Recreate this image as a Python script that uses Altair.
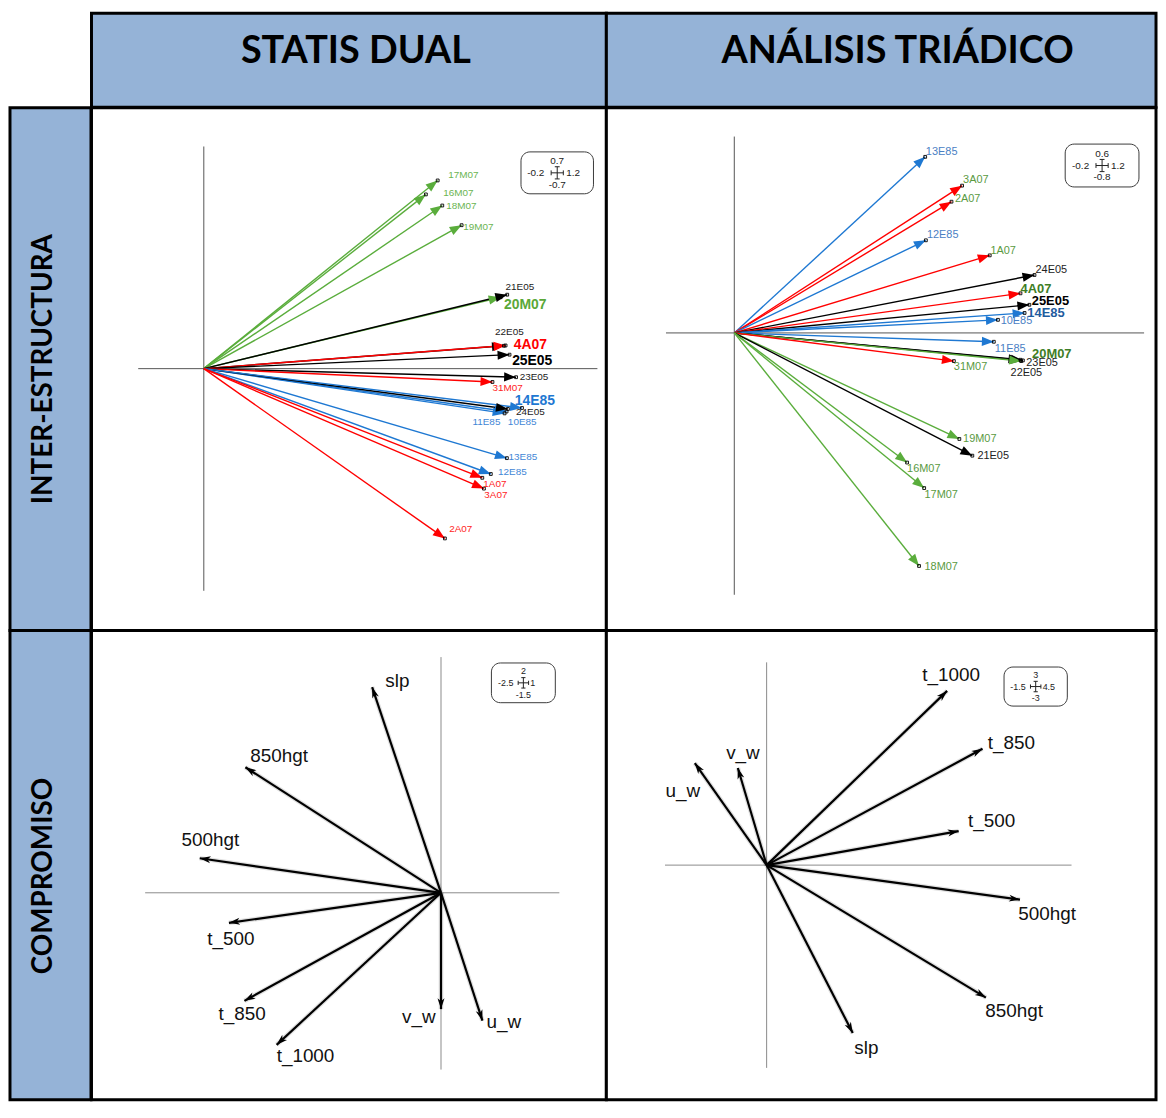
import math
import altair as alt
import pandas as pd

# ---------------- text ----------------
COL_TITLES = ["STATIS DUAL", "ANÁLISIS TRIÁDICO"]
ROW_TITLES = ["INTER-ESTRUCTURA", "COMPROMISO"]

# ---------------- panel 1: STATIS DUAL / INTER-ESTRUCTURA ----------------
P1_NAMES = ["17M07", "16M07", "18M07", "19M07", "20M07", "21E05", "22E05", "4A07", "25E05", "23E05",
            "31M07", "11E85", "10E85", "24E05", "14E85", "13E85", "12E85", "1A07", "3A07", "2A07"]
P1_X = [0.713, 0.677, 0.727, 0.786, 0.905, 0.925, 0.915, 0.920, 0.932, 0.952,
        0.880, 0.917, 0.923, 0.927, 0.970, 0.924, 0.875, 0.849, 0.854, 0.735]
P1_Y = [0.593, 0.549, 0.514, 0.452, 0.225, 0.233, 0.072, 0.073, 0.044, -0.027,
        -0.042, -0.141, -0.135, -0.127, -0.124, -0.282, -0.332, -0.344, -0.378, -0.535]
P1_GROUP = ["M07", "M07", "M07", "M07", "M07", "E05", "E05", "A07", "E05", "E05",
            "A07", "E85", "E85", "E05", "E85", "E85", "E85", "A07", "A07", "A07"]
P1_LABEL_GROUP = P1_GROUP
P1_LABEL_X = [0.745, 0.730, 0.739, 0.791, 0.915, 0.920, 0.888, 0.945, 0.940, 0.963,
              0.880, 0.819, 0.927, 0.952, 0.948, 0.929, 0.897, 0.852, 0.855, 0.748]
P1_LABEL_Y = [0.611, 0.554, 0.514, 0.445, 0.201, 0.256, 0.116, 0.073, 0.023, -0.027,
              -0.060, -0.169, -0.169, -0.138, -0.101, -0.278, -0.327, -0.362, -0.399, -0.506]
P1_BOLD = ["20M07", "4A07", "25E05", "14E85"]
P1_XDOM = [-0.2, 1.2]
P1_YDOM = [-0.7, 0.7]
P1_BOX_X = [0.967, 1.188]
P1_BOX_Y = [0.551, 0.683]

# ---------------- panel 2: ANÁLISIS TRIÁDICO / INTER-ESTRUCTURA ----------------
P2_NAMES = ["13E85", "3A07", "2A07", "12E85", "1A07", "24E05", "4A07", "25E05", "14E85", "10E85",
            "11E85", "22E05", "23E05", "20M07", "31M07", "19M07", "21E05", "16M07", "17M07", "18M07"]
P2_X = [0.559, 0.667, 0.636, 0.561, 0.748, 0.879, 0.838, 0.864, 0.850, 0.772,
        0.760, 0.838, 0.845, 0.840, 0.643, 0.659, 0.697, 0.506, 0.556, 0.541]
P2_Y = [0.538, 0.450, 0.401, 0.283, 0.237, 0.177, 0.121, 0.086, 0.061, 0.040,
        -0.027, -0.082, -0.084, -0.086, -0.086, -0.324, -0.375, -0.396, -0.474, -0.712]
P2_GROUP = ["E85", "A07", "A07", "E85", "A07", "E05", "A07", "E05", "E85", "E85",
            "E85", "E05", "E05", "M07", "A07", "M07", "E05", "M07", "M07", "M07"]
P2_LABEL_GROUP = ["E85", "M07", "M07", "E85", "M07", "E05", "M07", "E05", "E85", "E85",
                  "E85", "E05", "E05", "M07", "M07", "M07", "E05", "M07", "M07", "M07"]
P2_LABEL_X = [0.561, 0.670, 0.646, 0.564, 0.750, 0.882, 0.838, 0.871, 0.858, 0.780,
              0.763, 0.809, 0.855, 0.872, 0.643, 0.670, 0.712, 0.506, 0.557, 0.557]
P2_LABEL_Y = [0.552, 0.466, 0.410, 0.299, 0.250, 0.191, 0.134, 0.098, 0.061, 0.037,
              -0.048, -0.121, -0.091, -0.064, -0.104, -0.324, -0.377, -0.415, -0.494, -0.716]
P2_BOLD = ["4A07", "25E05", "14E85", "20M07"]
P2_XDOM = [-0.2, 1.2]
P2_YDOM = [-0.8, 0.6]
P2_BOX_X = [0.969, 1.185]
P2_BOX_Y = [0.446, 0.577]

# ---------------- panel 3: STATIS DUAL / COMPROMISO ----------------
P3_NAMES = ["slp", "850hgt", "500hgt", "t_500", "t_850", "t_1000", "v_w", "u_w"]
P3_X = [-0.582, -1.653, -2.039, -1.792, -1.661, -1.389, 0.0, 0.350]
P3_Y = [1.745, 1.065, 0.293, -0.255, -0.917, -1.290, -0.987, -1.085]
P3_LABEL_X = [-0.471, -1.611, -2.193, -1.975, -1.880, -1.389, -0.330, 0.384]
P3_LABEL_Y = [1.796, 1.164, 0.447, -0.396, -1.029, -1.385, -1.054, -1.094]
P3_XDOM = [-2.5, 1.0]
P3_YDOM = [-1.5, 2.0]
P3_BOX_X = [0.426, 0.966]
P3_BOX_Y = [1.613, 1.950]

# ---------------- panel 4: ANÁLISIS TRIÁDICO / COMPROMISO ----------------
P4_NAMES = ["t_1000", "t_850", "t_500", "500hgt", "850hgt", "slp", "u_w", "v_w"]
P4_X = [2.664, 3.186, 2.834, 3.739, 3.236, 1.271, -1.060, -0.425]
P4_Y = [2.578, 1.721, 0.504, -0.510, -1.960, -2.485, 1.510, 1.437]
P4_LABEL_X = [2.298, 3.265, 2.972, 3.714, 3.226, 1.295, -1.491, -0.597]
P4_LABEL_Y = [2.809, 1.804, 0.651, -0.721, -2.157, -2.706, 1.093, 1.657]
P4_XDOM = [-1.5, 4.5]
P4_YDOM = [-3.0, 3.0]
P4_BOX_X = [3.504, 4.438]
P4_BOX_Y = [2.353, 2.931]

# ---------------- styles ----------------
HEADER_FILL = "#95b3d7"
BORDER = 3
ARROW_COL = {"M07": "#5aad3c", "E05": "#000000", "A07": "#ff0000", "E85": "#1e78d2"}
P1_LABEL_COL = {"M07": "#6cb552", "E05": "#1a1a1a", "A07": "#ff2424", "E85": "#3f86d6"}
P1_BOLD_COL = {"M07": "#5aa838", "E05": "#000000", "A07": "#ff0000", "E85": "#1e78d2"}
P2_LABEL_COL = {"M07": "#5a9a3f", "E05": "#222222", "A07": "#5a9a3f", "E85": "#4a80c4"}
P2_BOLD_COL = {"M07": "#3e7d26", "E05": "#000000", "A07": "#3e7d26", "E85": "#1f5c9e"}
TRI_HEAD = "M0,0L-1,-0.38L-1,0.38Z"
DART_HEAD = "M0,0L-1,-0.32L-0.72,0L-1,0.32Z"
CROSS = "M-1,0L1,0M0,-1L0,1M-1,-0.4L-1,0.4M1,-0.4L1,0.4M-0.4,-1L0.4,-1M-0.4,1L0.4,1"
LABEL_FONT = "Liberation Sans"
TITLE_FONT = "Lato"

W0, W1, W2 = 81.5, 518, 553
H0, H1, H2 = 94.5, 526, 472


def fmt(v):
    return f"{v:g}"


def panel(names, xs, ys, groups, lgroups, lxs, lys, bold, xdom, ydom, xr, yr, w, h,
          box_x, box_y, st):
    kx = (xr[1] - xr[0]) / (xdom[1] - xdom[0])
    ky = (yr[0] - yr[1]) / (ydom[1] - ydom[0])
    df = pd.DataFrame({
        "name": names, "x": xs, "y": ys, "lx": lxs, "ly": lys,
        "ox": [0.0] * len(names), "oy": [0.0] * len(names),
        "b": [n in bold for n in names],
    })
    df["ang"] = [math.degrees(math.atan2(-y * ky, x * kx)) % 360 for x, y in zip(xs, ys)]
    df["ac"] = [st["arrow"][g] for g in groups]
    df["lc"] = [(st["bold_col"][g] if n in bold else st["label_col"][g]) for n, g in zip(names, lgroups)]

    sx = alt.Scale(domain=xdom, range=xr, nice=False, zero=False)
    sy = alt.Scale(domain=ydom, range=yr, nice=False, zero=False)

    def X(f):
        return alt.X(f, type="quantitative", scale=sx, axis=None)

    def Y(f):
        return alt.Y(f, type="quantitative", scale=sy, axis=None)

    axes_df = pd.DataFrame({"x": [xdom[0], 0.0], "x2": [xdom[1], 0.0],
                            "y": [0.0, ydom[0]], "y2": [0.0, ydom[1]]})
    axes = alt.Chart(axes_df).mark_rule(color=st["axis"], strokeWidth=1).encode(
        x=X("x"), x2="x2:Q", y=Y("y"), y2="y2:Q")

    base = alt.Chart(df)
    layers = [axes]
    if st["shadow"]:
        layers.append(base.mark_rule(strokeWidth=st["lw"] + 2.5, color="#000000", opacity=0.12).encode(
            x=X("ox"), x2="x:Q", y=Y("oy"), y2="y:Q"))
    layers.append(base.mark_rule(strokeWidth=st["lw"]).encode(
        x=X("ox"), x2="x:Q", y=Y("oy"), y2="y:Q", color=alt.Color("ac:N", scale=None)))
    layers.append(base.mark_point(shape=st["shape"], filled=True, size=st["head"], opacity=1,
                                  strokeWidth=0).encode(
        x=X("x"), y=Y("y"), angle=alt.Angle("ang:Q", scale=None),
        color=alt.Color("ac:N", scale=None)))
    if st["dots"]:
        layers.append(base.mark_point(shape="square", size=8, filled=False, strokeWidth=0.9,
                                      color="#000000", opacity=1).encode(x=X("x"), y=Y("y")))
    layers.append(base.transform_filter("!datum.b").mark_text(
        align="left", baseline="middle", font=LABEL_FONT, fontSize=st["fs"]).encode(
        x=X("lx"), y=Y("ly"), text="name:N", color=alt.Color("lc:N", scale=None)))
    if bold:
        layers.append(base.transform_filter("datum.b").mark_text(
            align="left", baseline="middle", font=LABEL_FONT, fontSize=st["bfs"],
            fontWeight="bold").encode(
            x=X("lx"), y=Y("ly"), text="name:N", color=alt.Color("lc:N", scale=None)))

    # scale box
    bdf = pd.DataFrame({"x": [box_x[0]], "x2": [box_x[1]], "y": [box_y[0]], "y2": [box_y[1]],
                        "cx": [(box_x[0] + box_x[1]) / 2], "cy": [(box_y[0] + box_y[1]) / 2],
                        "top": [fmt(ydom[1])], "bot": [fmt(ydom[0])],
                        "left": [fmt(xdom[0])], "right": [fmt(xdom[1])]})
    bb = alt.Chart(bdf)
    layers.append(bb.mark_rect(cornerRadius=9, fill="white", stroke="#3a3a3a",
                               strokeWidth=1).encode(x=X("x"), x2="x2:Q", y=Y("y"), y2="y2:Q"))
    layers.append(bb.mark_point(shape=CROSS, filled=False, size=st["cross"], color="#222222",
                                strokeWidth=1, opacity=1).encode(x=X("cx"), y=Y("cy")))
    bs = st["bfont"]
    off = st["boff"]
    layers.append(bb.mark_text(font=LABEL_FONT, fontSize=bs, color="#222222", baseline="middle",
                               dy=-off[1]).encode(x=X("cx"), y=Y("cy"), text="top:N"))
    layers.append(bb.mark_text(font=LABEL_FONT, fontSize=bs, color="#222222", baseline="middle",
                               dy=off[1]).encode(x=X("cx"), y=Y("cy"), text="bot:N"))
    layers.append(bb.mark_text(font=LABEL_FONT, fontSize=bs, color="#222222", baseline="middle",
                               align="right", dx=-off[0]).encode(x=X("cx"), y=Y("cy"), text="left:N"))
    layers.append(bb.mark_text(font=LABEL_FONT, fontSize=bs, color="#222222", baseline="middle",
                               align="left", dx=off[2]).encode(x=X("cx"), y=Y("cy"), text="right:N"))

    return alt.layer(*layers).properties(
        width=w, height=h,
        view=alt.ViewBackground(stroke="black", strokeWidth=BORDER, fill="white"))


TOP1 = {"arrow": ARROW_COL, "label_col": P1_LABEL_COL, "bold_col": P1_BOLD_COL,
        "axis": "#555555", "lw": 1.4, "shape": TRI_HEAD, "head": 576, "dots": True,
        "shadow": False, "fs": 10, "bfs": 14, "cross": 150, "bfont": 10, "boff": (13, 12, 9)}
TOP2 = dict(TOP1, label_col=P2_LABEL_COL, bold_col=P2_BOLD_COL, fs=11, bfs=13)
BOT = {"arrow": {"k": "#000000"}, "label_col": {"k": "#111111"}, "bold_col": {"k": "#111111"},
       "axis": "#8a8a8a", "lw": 2.2, "shape": DART_HEAD, "head": 484, "dots": False,
       "shadow": True, "fs": 19, "bfs": 19, "cross": 110, "bfont": 9, "boff": (10, 12, 7)}

p1 = panel(P1_NAMES, P1_X, P1_Y, P1_GROUP, P1_LABEL_GROUP, P1_LABEL_X, P1_LABEL_Y, P1_BOLD,
           P1_XDOM, P1_YDOM, [47, 509], [486, 39], W1, H1, P1_BOX_X, P1_BOX_Y, TOP1)
p2 = panel(P2_NAMES, P2_X, P2_Y, P2_GROUP, P2_LABEL_GROUP, P2_LABEL_X, P2_LABEL_Y, P2_BOLD,
           P2_XDOM, P2_YDOM, [60, 541], [490, 29], W2, H1, P2_BOX_X, P2_BOX_Y, TOP2)
p3 = panel(P3_NAMES, P3_X, P3_Y, ["k"] * 8, ["k"] * 8, P3_LABEL_X, P3_LABEL_Y, [],
           P3_XDOM, P3_YDOM, [54, 470.7], [441.7, 26.7], W1, H2, P3_BOX_X, P3_BOX_Y, BOT)
p4 = panel(P4_NAMES, P4_X, P4_Y, ["k"] * 8, ["k"] * 8, P4_LABEL_X, P4_LABEL_Y, [],
           P4_XDOM, P4_YDOM, [59, 468], [440, 32], W2, H2, P4_BOX_X, P4_BOX_Y, BOT)


def header(text, w, cx):
    return alt.Chart(alt.Data(values=[{"t": text}])).mark_text(
        font=TITLE_FONT, fontWeight="bold", fontSize=38, color="black",
        baseline="alphabetic", align="center").encode(
        text="t:N", x=alt.value(cx), y=alt.value(49.5)).properties(
        width=w, height=H0,
        view=alt.ViewBackground(stroke="black", strokeWidth=BORDER, fill=HEADER_FILL))


def side(text, h, cy):
    return alt.Chart(alt.Data(values=[{"t": text}])).mark_text(
        font=TITLE_FONT, fontWeight="bold", fontSize=28, color="black",
        baseline="alphabetic", align="center", angle=270).encode(
        text="t:N", x=alt.value(42.5), y=alt.value(cy)).properties(
        width=W0, height=h,
        view=alt.ViewBackground(stroke="black", strokeWidth=BORDER, fill=HEADER_FILL))


corner = alt.Chart(alt.Data(values=[{"t": 1}])).mark_rect(fill="white", opacity=0).encode(
    x=alt.value(0), x2=alt.value(W0), y=alt.value(0), y2=alt.value(H0)).properties(
    width=W0, height=H0, view=alt.ViewBackground(stroke="transparent", fill="white"))

chart = alt.concat(
    corner, header(COL_TITLES[0], W1, 266), header(COL_TITLES[1], W2, 293),
    side(ROW_TITLES[0], H1, 263), p1, p2,
    side(ROW_TITLES[1], H2, 247), p3, p4,
    columns=3, spacing=0, bounds="flush",
).properties(padding=0).configure_view(stroke="black").configure_concat(spacing=0)

chart.save("out.html", embed_options={"renderer": "svg", "actions": False})
